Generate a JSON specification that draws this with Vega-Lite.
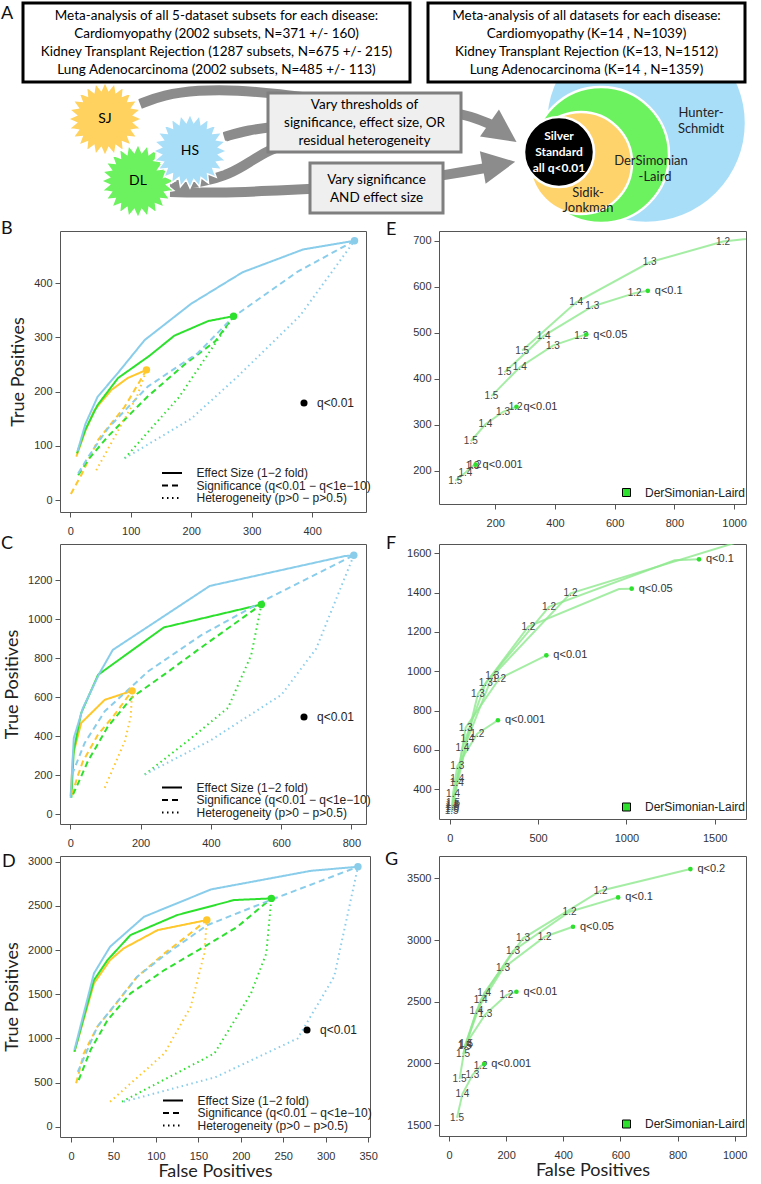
{
"$schema":"https://vega.github.io/schema/vega-lite/v6.json",
"padding":0,
"background":"white",
"columns":2,
"align":"each",
"bounds":"flush",
"spacing":{"row":32,"column":69},
"config":{
 "font":"Liberation Sans",
 "view":{"stroke":"#555","strokeWidth":1},
 "axis":{"domain":false,"grid":false,"tickColor":"#555","tickSize":5,"labelFont":"Liberation Sans","labelFontSize":11,"labelColor":"#333","titleFont":"Lato","titleFontSize":18,"titleFontWeight":"normal","titleColor":"#222","labelFlush":false,"labelOverlap":false,"format":"d"},
 "axisX":{"labelPadding":8,"labelAngle":0,"titlePadding":1},
 "axisY":{"labelPadding":3,"titlePadding":6},
 "legend":{"padding":0,"labelFont":"Liberation Sans","labelFontSize":12,"labelColor":"#222","rowPadding":0.5,"labelLimit":300},
 "title":{"font":"Lato","fontSize":18,"fontWeight":"normal","anchor":"start","frame":"group","offset":0,"baseline":"middle","color":"#111"}
},
"resolve":{"scale":{"fill":"independent","stroke":"independent","strokeDash":"independent","shape":"independent","size":"independent"},"legend":{"fill":"independent","stroke":"independent","strokeDash":"independent","shape":"independent","size":"independent"}},
"datasets":{
"roc":[
{"p":"B","m":"SJ","t":"ES","fp":10,"tp":80},{"p":"B","m":"SJ","t":"ES","fp":25,"tp":128},{"p":"B","m":"SJ","t":"ES","fp":40,"tp":166},{"p":"B","m":"SJ","t":"ES","fp":68,"tp":203},{"p":"B","m":"SJ","t":"ES","fp":95,"tp":225},{"p":"B","m":"SJ","t":"ES","fp":126,"tp":240},
{"p":"B","m":"DL","t":"ES","fp":11,"tp":86},{"p":"B","m":"DL","t":"ES","fp":25,"tp":130},{"p":"B","m":"DL","t":"ES","fp":45,"tp":175},{"p":"B","m":"DL","t":"ES","fp":79,"tp":225},{"p":"B","m":"DL","t":"ES","fp":131,"tp":266},{"p":"B","m":"DL","t":"ES","fp":172,"tp":303},{"p":"B","m":"DL","t":"ES","fp":228,"tp":330},{"p":"B","m":"DL","t":"ES","fp":270,"tp":339},
{"p":"B","m":"HS","t":"ES","fp":12,"tp":90},{"p":"B","m":"HS","t":"ES","fp":25,"tp":140},{"p":"B","m":"HS","t":"ES","fp":45,"tp":190},{"p":"B","m":"HS","t":"ES","fp":80,"tp":236},{"p":"B","m":"HS","t":"ES","fp":123,"tp":295},{"p":"B","m":"HS","t":"ES","fp":200,"tp":362},{"p":"B","m":"HS","t":"ES","fp":285,"tp":420},{"p":"B","m":"HS","t":"ES","fp":385,"tp":462},{"p":"B","m":"HS","t":"ES","fp":470,"tp":478},
{"p":"B","m":"SJ","t":"SIG","fp":1,"tp":11},{"p":"B","m":"SJ","t":"SIG","fp":20,"tp":50},{"p":"B","m":"SJ","t":"SIG","fp":46,"tp":111},{"p":"B","m":"SJ","t":"SIG","fp":90,"tp":172},{"p":"B","m":"SJ","t":"SIG","fp":126,"tp":240},
{"p":"B","m":"DL","t":"SIG","fp":13,"tp":46},{"p":"B","m":"DL","t":"SIG","fp":30,"tp":75},{"p":"B","m":"DL","t":"SIG","fp":62,"tp":117},{"p":"B","m":"DL","t":"SIG","fp":128,"tp":191},{"p":"B","m":"DL","t":"SIG","fp":189,"tp":250},{"p":"B","m":"DL","t":"SIG","fp":240,"tp":293},{"p":"B","m":"DL","t":"SIG","fp":270,"tp":339},
{"p":"B","m":"HS","t":"SIG","fp":13,"tp":49},{"p":"B","m":"HS","t":"SIG","fp":30,"tp":80},{"p":"B","m":"HS","t":"SIG","fp":62,"tp":132},{"p":"B","m":"HS","t":"SIG","fp":128,"tp":209},{"p":"B","m":"HS","t":"SIG","fp":211,"tp":271},{"p":"B","m":"HS","t":"SIG","fp":270,"tp":338},{"p":"B","m":"HS","t":"SIG","fp":376,"tp":421},{"p":"B","m":"HS","t":"SIG","fp":470,"tp":478},
{"p":"B","m":"SJ","t":"HET","fp":43,"tp":55},{"p":"B","m":"SJ","t":"HET","fp":80,"tp":130},{"p":"B","m":"SJ","t":"HET","fp":110,"tp":190},{"p":"B","m":"SJ","t":"HET","fp":126,"tp":240},
{"p":"B","m":"DL","t":"HET","fp":90,"tp":77},{"p":"B","m":"DL","t":"HET","fp":180,"tp":190},{"p":"B","m":"DL","t":"HET","fp":270,"tp":339},
{"p":"B","m":"HS","t":"HET","fp":90,"tp":77},{"p":"B","m":"HS","t":"HET","fp":200,"tp":150},{"p":"B","m":"HS","t":"HET","fp":277,"tp":228},{"p":"B","m":"HS","t":"HET","fp":380,"tp":340},{"p":"B","m":"HS","t":"HET","fp":470,"tp":478},
{"p":"C","m":"SJ","t":"ES","fp":1,"tp":94},{"p":"C","m":"SJ","t":"ES","fp":8,"tp":306},{"p":"C","m":"SJ","t":"ES","fp":31,"tp":468},{"p":"C","m":"SJ","t":"ES","fp":98,"tp":587},{"p":"C","m":"SJ","t":"ES","fp":176,"tp":633},
{"p":"C","m":"DL","t":"ES","fp":3,"tp":85},{"p":"C","m":"DL","t":"ES","fp":10,"tp":330},{"p":"C","m":"DL","t":"ES","fp":31,"tp":519},{"p":"C","m":"DL","t":"ES","fp":79,"tp":715},{"p":"C","m":"DL","t":"ES","fp":266,"tp":958},{"p":"C","m":"DL","t":"ES","fp":544,"tp":1076},
{"p":"C","m":"HS","t":"ES","fp":1,"tp":85},{"p":"C","m":"HS","t":"ES","fp":10,"tp":391},{"p":"C","m":"HS","t":"ES","fp":36,"tp":545},{"p":"C","m":"HS","t":"ES","fp":83,"tp":723},{"p":"C","m":"HS","t":"ES","fp":121,"tp":843},{"p":"C","m":"HS","t":"ES","fp":397,"tp":1171},{"p":"C","m":"HS","t":"ES","fp":781,"tp":1324},{"p":"C","m":"HS","t":"ES","fp":807,"tp":1328},
{"p":"C","m":"SJ","t":"SIG","fp":5,"tp":100},{"p":"C","m":"SJ","t":"SIG","fp":20,"tp":190},{"p":"C","m":"SJ","t":"SIG","fp":36,"tp":272},{"p":"C","m":"SJ","t":"SIG","fp":79,"tp":409},{"p":"C","m":"SJ","t":"SIG","fp":126,"tp":511},{"p":"C","m":"SJ","t":"SIG","fp":176,"tp":633},
{"p":"C","m":"DL","t":"SIG","fp":8,"tp":102},{"p":"C","m":"DL","t":"SIG","fp":30,"tp":190},{"p":"C","m":"DL","t":"SIG","fp":50,"tp":272},{"p":"C","m":"DL","t":"SIG","fp":107,"tp":450},{"p":"C","m":"DL","t":"SIG","fp":176,"tp":600},{"p":"C","m":"DL","t":"SIG","fp":270,"tp":720},{"p":"C","m":"DL","t":"SIG","fp":363,"tp":843},{"p":"C","m":"DL","t":"SIG","fp":544,"tp":1076},
{"p":"C","m":"HS","t":"SIG","fp":5,"tp":204},{"p":"C","m":"HS","t":"SIG","fp":41,"tp":366},{"p":"C","m":"HS","t":"SIG","fp":98,"tp":528},{"p":"C","m":"HS","t":"SIG","fp":221,"tp":732},{"p":"C","m":"HS","t":"SIG","fp":373,"tp":919},{"p":"C","m":"HS","t":"SIG","fp":553,"tp":1098},{"p":"C","m":"HS","t":"SIG","fp":807,"tp":1328},
{"p":"C","m":"SJ","t":"HET","fp":98,"tp":136},{"p":"C","m":"SJ","t":"HET","fp":155,"tp":374},{"p":"C","m":"SJ","t":"HET","fp":172,"tp":500},{"p":"C","m":"SJ","t":"HET","fp":176,"tp":633},
{"p":"C","m":"DL","t":"HET","fp":212,"tp":204},{"p":"C","m":"DL","t":"HET","fp":330,"tp":370},{"p":"C","m":"DL","t":"HET","fp":449,"tp":546},{"p":"C","m":"DL","t":"HET","fp":515,"tp":817},{"p":"C","m":"DL","t":"HET","fp":544,"tp":1076},
{"p":"C","m":"HS","t":"HET","fp":212,"tp":204},{"p":"C","m":"HS","t":"HET","fp":400,"tp":380},{"p":"C","m":"HS","t":"HET","fp":601,"tp":613},{"p":"C","m":"HS","t":"HET","fp":700,"tp":850},{"p":"C","m":"HS","t":"HET","fp":807,"tp":1328},
{"p":"D","m":"SJ","t":"ES","fp":4,"tp":849},{"p":"D","m":"SJ","t":"ES","fp":27,"tp":1623},{"p":"D","m":"SJ","t":"ES","fp":46,"tp":1887},{"p":"D","m":"SJ","t":"ES","fp":62,"tp":2019},{"p":"D","m":"SJ","t":"ES","fp":102,"tp":2226},{"p":"D","m":"SJ","t":"ES","fp":160,"tp":2340},
{"p":"D","m":"DL","t":"ES","fp":4,"tp":849},{"p":"D","m":"DL","t":"ES","fp":27,"tp":1660},{"p":"D","m":"DL","t":"ES","fp":43,"tp":1887},{"p":"D","m":"DL","t":"ES","fp":70,"tp":2170},{"p":"D","m":"DL","t":"ES","fp":125,"tp":2396},{"p":"D","m":"DL","t":"ES","fp":192,"tp":2566},{"p":"D","m":"DL","t":"ES","fp":236,"tp":2585},
{"p":"D","m":"HS","t":"ES","fp":4,"tp":868},{"p":"D","m":"HS","t":"ES","fp":27,"tp":1736},{"p":"D","m":"HS","t":"ES","fp":46,"tp":2038},{"p":"D","m":"HS","t":"ES","fp":86,"tp":2377},{"p":"D","m":"HS","t":"ES","fp":165,"tp":2687},{"p":"D","m":"HS","t":"ES","fp":283,"tp":2898},{"p":"D","m":"HS","t":"ES","fp":338,"tp":2943},
{"p":"D","m":"SJ","t":"SIG","fp":6,"tp":491},{"p":"D","m":"SJ","t":"SIG","fp":15,"tp":830},{"p":"D","m":"SJ","t":"SIG","fp":31,"tp":1132},{"p":"D","m":"SJ","t":"SIG","fp":50,"tp":1358},{"p":"D","m":"SJ","t":"SIG","fp":78,"tp":1698},{"p":"D","m":"SJ","t":"SIG","fp":110,"tp":1962},{"p":"D","m":"SJ","t":"SIG","fp":133,"tp":2132},{"p":"D","m":"SJ","t":"SIG","fp":160,"tp":2340},
{"p":"D","m":"DL","t":"SIG","fp":9,"tp":528},{"p":"D","m":"DL","t":"SIG","fp":23,"tp":868},{"p":"D","m":"DL","t":"SIG","fp":43,"tp":1208},{"p":"D","m":"DL","t":"SIG","fp":70,"tp":1509},{"p":"D","m":"DL","t":"SIG","fp":110,"tp":1774},{"p":"D","m":"DL","t":"SIG","fp":157,"tp":2038},{"p":"D","m":"DL","t":"SIG","fp":196,"tp":2264},{"p":"D","m":"DL","t":"SIG","fp":236,"tp":2585},
{"p":"D","m":"HS","t":"SIG","fp":8,"tp":620},{"p":"D","m":"HS","t":"SIG","fp":31,"tp":1132},{"p":"D","m":"HS","t":"SIG","fp":78,"tp":1698},{"p":"D","m":"HS","t":"SIG","fp":110,"tp":1940},{"p":"D","m":"HS","t":"SIG","fp":160,"tp":2280},{"p":"D","m":"HS","t":"SIG","fp":236,"tp":2570},{"p":"D","m":"HS","t":"SIG","fp":338,"tp":2943},
{"p":"D","m":"SJ","t":"HET","fp":46,"tp":283},{"p":"D","m":"SJ","t":"HET","fp":110,"tp":830},{"p":"D","m":"SJ","t":"HET","fp":141,"tp":1358},{"p":"D","m":"SJ","t":"HET","fp":157,"tp":1962},{"p":"D","m":"SJ","t":"HET","fp":160,"tp":2340},
{"p":"D","m":"DL","t":"HET","fp":60,"tp":283},{"p":"D","m":"DL","t":"HET","fp":169,"tp":830},{"p":"D","m":"DL","t":"HET","fp":212,"tp":1509},{"p":"D","m":"DL","t":"HET","fp":230,"tp":1962},{"p":"D","m":"DL","t":"HET","fp":236,"tp":2585},
{"p":"D","m":"HS","t":"HET","fp":62,"tp":283},{"p":"D","m":"HS","t":"HET","fp":170,"tp":560},{"p":"D","m":"HS","t":"HET","fp":267,"tp":1000},{"p":"D","m":"HS","t":"HET","fp":310,"tp":1700},{"p":"D","m":"HS","t":"HET","fp":338,"tp":2943}
],
"ends":[
{"p":"B","m":"SJ","fp":126,"tp":240},{"p":"B","m":"DL","fp":270,"tp":339},{"p":"B","m":"HS","fp":470,"tp":478},
{"p":"C","m":"SJ","fp":176,"tp":633},{"p":"C","m":"DL","fp":544,"tp":1076},{"p":"C","m":"HS","fp":807,"tp":1328},
{"p":"D","m":"SJ","fp":160,"tp":2340},{"p":"D","m":"DL","fp":236,"tp":2585},{"p":"D","m":"HS","fp":338,"tp":2943}
],
"qc":[
{"p":"E","q":"q<0.001","fp":66,"tp":178,"es":"1.5"},{"p":"E","q":"q<0.001","fp":100,"tp":196,"es":"1.4"},{"p":"E","q":"q<0.001","fp":124,"tp":210,"es":"1.3"},{"p":"E","q":"q<0.001","fp":131,"tp":213,"es":"1.2"},{"p":"E","q":"q<0.001","fp":134,"tp":213,"es":"end"},
{"p":"E","q":"q<0.01","fp":118,"tp":264,"es":"1.5"},{"p":"E","q":"q<0.01","fp":167,"tp":301,"es":"1.4"},{"p":"E","q":"q<0.01","fp":226,"tp":328,"es":"1.3"},{"p":"E","q":"q<0.01","fp":268,"tp":338,"es":"1.2"},{"p":"E","q":"q<0.01","fp":271,"tp":339,"es":"end"},
{"p":"E","q":"q<0.05","fp":187,"tp":362,"es":"1.5"},{"p":"E","q":"q<0.05","fp":282,"tp":425,"es":"1.4"},{"p":"E","q":"q<0.05","fp":393,"tp":472,"es":"1.3"},{"p":"E","q":"q<0.05","fp":488,"tp":493,"es":"1.2"},{"p":"E","q":"q<0.05","fp":505,"tp":496,"es":"end"},
{"p":"E","q":"q<0.1","fp":231,"tp":414,"es":"1.5"},{"p":"E","q":"q<0.1","fp":362,"tp":493,"es":"1.4"},{"p":"E","q":"q<0.1","fp":525,"tp":557,"es":"1.3"},{"p":"E","q":"q<0.1","fp":667,"tp":586,"es":"1.2"},{"p":"E","q":"q<0.1","fp":711,"tp":591,"es":"end"},
{"p":"E","q":"q<0.2","fp":290,"tp":461,"es":"1.5"},{"p":"E","q":"q<0.2","fp":471,"tp":566,"es":"1.4"},{"p":"E","q":"q<0.2","fp":717,"tp":653,"es":"1.3"},{"p":"E","q":"q<0.2","fp":963,"tp":698,"es":"1.2"},{"p":"E","q":"q<0.2","fp":1150,"tp":712,"es":"end"},
{"p":"F","q":"q<0.001","fp":11,"tp":290,"es":"1.5"},{"p":"F","q":"q<0.001","fp":19,"tp":378,"es":"1.4"},{"p":"F","q":"q<0.001","fp":43,"tp":518,"es":"1.3"},{"p":"F","q":"q<0.001","fp":156,"tp":683,"es":"1.2"},{"p":"F","q":"q<0.001","fp":273,"tp":751,"es":"end"},
{"p":"F","q":"q<0.01","fp":13,"tp":300,"es":"1.5"},{"p":"F","q":"q<0.01","fp":40,"tp":434,"es":"1.4"},{"p":"F","q":"q<0.01","fp":90,"tp":713,"es":"1.3"},{"p":"F","q":"q<0.01","fp":279,"tp":961,"es":"1.2"},{"p":"F","q":"q<0.01","fp":547,"tp":1081,"es":"end"},
{"p":"F","q":"q<0.05","fp":15,"tp":310,"es":"1.5"},{"p":"F","q":"q<0.05","fp":43,"tp":450,"es":"1.4"},{"p":"F","q":"q<0.05","fp":160,"tp":886,"es":"1.3"},{"p":"F","q":"q<0.05","fp":445,"tp":1227,"es":"1.2"},{"p":"F","q":"q<0.05","fp":958,"tp":1418,"es":""},{"p":"F","q":"q<0.05","fp":1030,"tp":1420,"es":"end"},
{"p":"F","q":"q<0.1","fp":17,"tp":320,"es":"1.5"},{"p":"F","q":"q<0.1","fp":72,"tp":611,"es":"1.4"},{"p":"F","q":"q<0.1","fp":204,"tp":942,"es":"1.3"},{"p":"F","q":"q<0.1","fp":562,"tp":1328,"es":"1.2"},{"p":"F","q":"q<0.1","fp":1273,"tp":1564,"es":""},{"p":"F","q":"q<0.1","fp":1411,"tp":1569,"es":"end"},
{"p":"F","q":"q<0.2","fp":19,"tp":330,"es":"1.5"},{"p":"F","q":"q<0.2","fp":100,"tp":654,"es":"1.4"},{"p":"F","q":"q<0.2","fp":241,"tp":975,"es":"1.3"},{"p":"F","q":"q<0.2","fp":684,"tp":1396,"es":"1.2"},{"p":"F","q":"q<0.2","fp":1750,"tp":1690,"es":"end"},
{"p":"G","q":"q<0.001","fp":28,"tp":1559,"es":"1.5"},{"p":"G","q":"q<0.001","fp":47,"tp":1751,"es":"1.4"},{"p":"G","q":"q<0.001","fp":82,"tp":1905,"es":"1.3"},{"p":"G","q":"q<0.001","fp":111,"tp":1978,"es":"1.2"},{"p":"G","q":"q<0.001","fp":123,"tp":1995,"es":"end"},
{"p":"G","q":"q<0.01","fp":37,"tp":1873,"es":"1.5"},{"p":"G","q":"q<0.01","fp":57,"tp":2150,"es":"1.4"},{"p":"G","q":"q<0.01","fp":127,"tp":2397,"es":"1.3"},{"p":"G","q":"q<0.01","fp":201,"tp":2554,"es":"1.2"},{"p":"G","q":"q<0.01","fp":236,"tp":2581,"es":"end"},
{"p":"G","q":"q<0.05","fp":49,"tp":2073,"es":"1.5"},{"p":"G","q":"q<0.05","fp":96,"tp":2424,"es":"1.4"},{"p":"G","q":"q<0.05","fp":189,"tp":2770,"es":"1.3"},{"p":"G","q":"q<0.05","fp":335,"tp":3027,"es":"1.2"},{"p":"G","q":"q<0.05","fp":434,"tp":3108,"es":"end"},
{"p":"G","q":"q<0.1","fp":55,"tp":2140,"es":"1.5"},{"p":"G","q":"q<0.1","fp":111,"tp":2514,"es":"1.4"},{"p":"G","q":"q<0.1","fp":224,"tp":2911,"es":"1.3"},{"p":"G","q":"q<0.1","fp":422,"tp":3230,"es":"1.2"},{"p":"G","q":"q<0.1","fp":592,"tp":3346,"es":"end"},
{"p":"G","q":"q<0.2","fp":60,"tp":2160,"es":"1.5"},{"p":"G","q":"q<0.2","fp":123,"tp":2568,"es":"1.4"},{"p":"G","q":"q<0.2","fp":259,"tp":3014,"es":"1.3"},{"p":"G","q":"q<0.2","fp":531,"tp":3400,"es":"1.2"},{"p":"G","q":"q<0.2","fp":845,"tp":3576,"es":"end"}
],
"arrows":[
{"id":"T1","o":1,"x":142,"y":104},{"id":"T1","o":2,"x":165,"y":95},{"id":"T1","o":3,"x":200,"y":90},{"id":"T1","o":4,"x":240,"y":90},{"id":"T1","o":5,"x":280,"y":94},{"id":"T1","o":6,"x":330,"y":100},
{"id":"T2","o":1,"x":226,"y":137},{"id":"T2","o":2,"x":250,"y":130},{"id":"T2","o":3,"x":280,"y":126},{"id":"T2","o":4,"x":330,"y":125},
{"id":"T3","o":1,"x":172,"y":186},{"id":"T3","o":2,"x":205,"y":182},{"id":"T3","o":3,"x":232,"y":174},{"id":"T3","o":4,"x":252,"y":162},{"id":"T3","o":5,"x":270,"y":150},{"id":"T3","o":6,"x":300,"y":140},{"id":"T3","o":7,"x":330,"y":135},
{"id":"T4","o":1,"x":440,"y":112},{"id":"T4","o":2,"x":468,"y":114},{"id":"T4","o":3,"x":494,"y":125},
{"id":"B1","o":1,"x":172,"y":192},{"id":"B1","o":2,"x":220,"y":193},{"id":"B1","o":3,"x":270,"y":191},{"id":"B1","o":4,"x":330,"y":188},
{"id":"B2","o":1,"x":440,"y":176},{"id":"B2","o":2,"x":465,"y":172},{"id":"B2","o":3,"x":488,"y":168}
],
"heads":[{"id":"top","x":505,"y":132.5},{"id":"bottom","x":501,"y":164.6}],
"stars":[{"name":"SJ","x":107,"y":119},{"name":"DL","x":140,"y":181},{"name":"HS","x":192,"y":151}],
"rings":[{"ring":"HS","x":648,"y":123},{"ring":"DL","x":603,"y":155},{"ring":"SJ","x":583,"y":163},{"ring":"SS","x":561,"y":152}],
"boxes":[{"kind":"L","x":25,"x2":412,"y":3,"y2":82},{"kind":"R","x":430,"x2":747,"y":3,"y2":82},{"kind":"G","x":270,"x2":463,"y":93,"y2":152},{"kind":"G","x":312,"x2":445,"y":163,"y2":213}],
"atext":[
{"g":"boxL","x":218.5,"y":16,"t":"Meta-analysis of all 5-dataset subsets for each disease:"},
{"g":"boxL","x":218.5,"y":34,"t":"Cardiomyopathy (2002 subsets, N=371 +/- 160)"},
{"g":"boxL","x":218.5,"y":52,"t":"Kidney Transplant Rejection (1287 subsets, N=675 +/- 215)"},
{"g":"boxL","x":218.5,"y":70,"t":"Lung Adenocarcinoma (2002 subsets, N=485 +/- 113)"},
{"g":"boxL","x":366.5,"y":105,"t":"Vary thresholds of"},
{"g":"boxL","x":366.5,"y":123,"t":"significance, effect size, OR"},
{"g":"boxL","x":366.5,"y":141,"t":"residual heterogeneity"},
{"g":"boxL","x":378.5,"y":180,"t":"Vary significance"},
{"g":"boxL","x":378.5,"y":198,"t":"AND effect size"},
{"g":"boxR","x":588.5,"y":16,"t":"Meta-analysis of all datasets for each disease:"},
{"g":"boxR","x":588.5,"y":34,"t":"Cardiomyopathy  (K=14 , N=1039)"},
{"g":"boxR","x":588.5,"y":52,"t":"Kidney Transplant Rejection  (K=13, N=1512)"},
{"g":"boxR","x":588.5,"y":70,"t":"Lung Adenocarcinoma  (K=14 , N=1359)"},
{"g":"star","x":107,"y":119,"t":"SJ"},
{"g":"star","x":192,"y":151,"t":"HS"},
{"g":"star","x":140,"y":181,"t":"DL"},
{"g":"ss","x":561,"y":136,"t":"Silver"},
{"g":"ss","x":561,"y":152,"t":"Standard"},
{"g":"ss","x":561,"y":168,"t":"all q<0.01"},
{"g":"ring","x":703,"y":113,"t":"Hunter-"},
{"g":"ring","x":703,"y":129,"t":"Schmidt"},
{"g":"ring","x":653,"y":161,"t":"DerSimonian"},
{"g":"ring","x":657,"y":177,"t":"-Laird"},
{"g":"ring","x":590,"y":193,"t":"Sidik-"},
{"g":"ring","x":590,"y":208,"t":"Jonkman"},
{"g":"letter","x":9,"y":14,"t":"A"}
]
},
"concat":[
{
 "width":310,"height":199,"view":{"stroke":null},
 "encoding":{
  "x":{"field":"x","type":"quantitative","scale":{"domain":[62,372],"nice":false,"zero":false},"axis":null},
  "y":{"field":"y","type":"quantitative","scale":{"domain":[0,199],"nice":false,"zero":false,"reverse":true},"axis":null}
 },
 "layer":[
  {"data":{"values":[{}]},"mark":{"type":"rect","fill":"white","strokeWidth":0},"encoding":{"x":{"datum":0,"type":"quantitative"},"x2":{"datum":761},"y":{"datum":0,"type":"quantitative"},"y2":{"datum":226}}},
  {"data":{"name":"arrows"},"mark":{"type":"line","stroke":"#8c8c8c","strokeWidth":10,"interpolate":"basis","strokeCap":"butt"},"encoding":{"detail":{"field":"id"},"order":{"field":"o","type":"quantitative"}}},
  {"data":{"name":"heads"},"transform":[{"filter":"datum.id=='top'"}],"mark":{"type":"point","shape":"M-1,-1L1,0L-1,1Z","size":1089,"filled":true,"color":"#8c8c8c","opacity":1,"angle":35}},
  {"data":{"name":"heads"},"transform":[{"filter":"datum.id=='bottom'"}],"mark":{"type":"point","shape":"M-1,-1L1,0L-1,1Z","size":1089,"filled":true,"color":"#8c8c8c","opacity":1,"angle":-10}},
  {"data":{"name":"stars"},"mark":{"type":"point","shape":"M1,0L0.773,0.102L0.966,0.259L0.721,0.299L0.866,0.5L0.619,0.475L0.707,0.707L0.475,0.619L0.5,0.866L0.299,0.721L0.259,0.966L0.102,0.773L0,1L-0.102,0.773L-0.259,0.966L-0.299,0.721L-0.5,0.866L-0.475,0.619L-0.707,0.707L-0.619,0.475L-0.866,0.5L-0.721,0.299L-0.966,0.259L-0.773,0.102L-1,0L-0.773,-0.102L-0.966,-0.259L-0.721,-0.299L-0.866,-0.5L-0.619,-0.475L-0.707,-0.707L-0.475,-0.619L-0.5,-0.866L-0.299,-0.721L-0.259,-0.966L-0.102,-0.773L0,-1L0.102,-0.773L0.259,-0.966L0.299,-0.721L0.5,-0.866L0.475,-0.619L0.707,-0.707L0.619,-0.475L0.866,-0.5L0.721,-0.299L0.966,-0.259L0.773,-0.102Z","size":5476,"filled":true,"opacity":1,"stroke":"white","strokeWidth":1.5},
   "encoding":{"fill":{"field":"name","type":"nominal","scale":{"domain":["SJ","DL","HS"],"range":["#FFD25F","#6CF25E","#A9DEF9"]},"legend":null}}},
  {"data":{"name":"boxes"},"transform":[{"filter":"datum.kind=='L'"}],"mark":{"type":"rect","fill":"white","stroke":"black","strokeWidth":3},"encoding":{"x2":{"field":"x2"},"y2":{"field":"y2"}}},
  {"data":{"name":"boxes"},"transform":[{"filter":"datum.kind=='G'"}],"mark":{"type":"rect","fill":"#efefef","stroke":"#7f7f7f","strokeWidth":3},"encoding":{"x2":{"field":"x2"},"y2":{"field":"y2"}}},
  {"data":{"name":"atext"},"transform":[{"filter":"datum.g=='boxL'"}],"mark":{"type":"text","font":"Lato","fontSize":13.5,"fill":"#000","align":"center","baseline":"middle"},"encoding":{"text":{"field":"t"}}},
  {"data":{"name":"atext"},"transform":[{"filter":"datum.g=='star'"}],"mark":{"type":"text","font":"Lato","fontSize":14,"fill":"#000","align":"center","baseline":"middle"},"encoding":{"text":{"field":"t"}}},
  {"data":{"name":"atext"},"transform":[{"filter":"datum.g=='letter'"}],"mark":{"type":"text","font":"Lato","fontSize":18,"fill":"#111","align":"center","baseline":"middle"},"encoding":{"text":{"field":"t"}}}
 ]
},
{
 "width":307,"height":199,"view":{"stroke":null},
 "encoding":{
  "x":{"field":"x","type":"quantitative","scale":{"domain":[441,748],"nice":false,"zero":false},"axis":null},
  "y":{"field":"y","type":"quantitative","scale":{"domain":[0,199],"nice":false,"zero":false,"reverse":true},"axis":null}
 },
 "layer":[
  {"data":{"name":"rings"},"transform":[{"filter":"datum.ring=='HS'"}],"mark":{"type":"point","shape":"circle","size":40000,"filled":true,"opacity":1,"fill":"#A9DEF9","stroke":"white","strokeWidth":2.5}},
  {"data":{"name":"rings"},"transform":[{"filter":"datum.ring=='DL'"}],"mark":{"type":"point","shape":"circle","size":18496,"filled":true,"opacity":1,"fill":"#6CF25E","stroke":"white","strokeWidth":2.5}},
  {"data":{"name":"rings"},"transform":[{"filter":"datum.ring=='SJ'"}],"mark":{"type":"point","shape":"circle","size":10404,"filled":true,"opacity":1,"fill":"#FFD36B","stroke":"white","strokeWidth":2.5}},
  {"data":{"name":"rings"},"transform":[{"filter":"datum.ring=='SS'"}],"mark":{"type":"point","shape":"circle","size":4900,"filled":true,"opacity":1,"fill":"#000000","stroke":"white","strokeWidth":2.5}},
  {"data":{"name":"boxes"},"transform":[{"filter":"datum.kind=='R'"}],"mark":{"type":"rect","fill":"white","stroke":"black","strokeWidth":3},"encoding":{"x2":{"field":"x2"},"y2":{"field":"y2"}}},
  {"data":{"name":"atext"},"transform":[{"filter":"datum.g=='boxR'"}],"mark":{"type":"text","font":"Lato","fontSize":13.5,"fill":"#000","align":"center","baseline":"middle"},"encoding":{"text":{"field":"t"}}},
  {"data":{"name":"atext"},"transform":[{"filter":"datum.g=='ss'"}],"mark":{"type":"text","font":"Lato","fontSize":12,"fontWeight":"bold","fill":"white","align":"center","baseline":"middle"},"encoding":{"text":{"field":"t"}}},
  {"data":{"name":"atext"},"transform":[{"filter":"datum.g=='ring'"}],"mark":{"type":"text","font":"Lato","fontSize":13,"fill":"#222","align":"center","baseline":"middle"},"encoding":{"text":{"field":"t"}}}
 ]
},
{
 "width":306,"height":281,
 "title":{"text":"B","dx":-59,"dy":11},
 "encoding":{
  "x":{"field":"fp","type":"quantitative","scale":{"domain":[-17,489],"nice":false,"zero":false},"axis":{"values":[0,100,200,300,400],"title":null}},
  "y":{"field":"tp","type":"quantitative","scale":{"domain":[-22,496],"nice":false,"zero":false},"axis":{"values":[0,100,200,300,400],"title":"True Positives"}}
 },
 "layer":[
  {"data":{"name":"roc"},"transform":[{"filter":"datum.p=='B'"}],"mark":{"type":"line","strokeWidth":2,"strokeCap":"butt","strokeJoin":"round"},
   "encoding":{"stroke":{"field":"m","type":"nominal","scale":{"domain":["SJ","DL","HS"],"range":["#FFC72C","#2EE02E","#89CDEB"]},"legend":null},
    "strokeDash":{"field":"t","type":"nominal","scale":{"domain":["ES","SIG","HET"],"range":[[1,0],[6,4],[1.5,3.5]]},"legend":{"title":null,"orient":"none","legendX":106,"legendY":236,"symbolType":"M-2.5,0H2.5","symbolSize":64,"symbolStrokeWidth":2,"symbolStrokeColor":"black","labelOffset":18.5,"labelExpr":"datum.label=='ES'?'Effect Size (1−2 fold)':datum.label=='SIG'?'Significance (q<0.01 − q<1e−10)':'Heterogeneity (p>0 − p>0.5)'"}}}},
  {"data":{"name":"ends"},"transform":[{"filter":"datum.p=='B'"}],"mark":{"type":"point","filled":true,"size":55,"opacity":1},
   "encoding":{"fill":{"field":"m","type":"nominal","scale":{"domain":["SJ","DL","HS"],"range":["#FFC72C","#2EE02E","#89CDEB"]},"legend":{"title":null,"orient":"none","legendX":173,"legendY":185,"symbolType":"square","symbolSize":64,"symbolStrokeWidth":0,"labelOffset":11,"labelExpr":"datum.label=='SJ'?'Sidik-Jonkman':datum.label=='DL'?'DerSimonian-Laird':'Hunter-Schmidt'"}},
    "shape":{"field":"p","type":"nominal","scale":{"range":["circle"]},"legend":{"title":null,"orient":"none","legendX":238,"legendY":166,"symbolType":"circle","symbolSize":50,"symbolFillColor":"black","symbolStrokeColor":"black","symbolStrokeWidth":0,"labelOffset":7,"labelExpr":"'q<0.01'"}}}},
  {"data":{"values":[{}]},"mark":{"type":"text","font":"Lato","fontSize":17,"fill":"#111","align":"left","baseline":"middle"},"encoding":{"x":{"datum":12.7,"type":"quantitative"},"y":{"datum":458,"type":"quantitative"},"text":{"value":"Cardiomyopathy"}}}
 ]
},
{
 "width":307,"height":273,
 "title":{"text":"E","dx":-53,"dy":12},
 "encoding":{
  "x":{"field":"fp","type":"quantitative","scale":{"domain":[11.4,1040],"nice":false,"zero":false},"axis":{"values":[200,400,600,800,1000],"title":null}},
  "y":{"field":"tp","type":"quantitative","scale":{"domain":[127.6,721],"nice":false,"zero":false},"axis":{"values":[200,300,400,500,600,700],"title":null}}
 },
 "layer":[
  {"data":{"name":"qc"},"transform":[{"filter":"datum.p=='E'"}],"mark":{"type":"line","stroke":"#8FE88F","strokeWidth":2,"opacity":0.8,"clip":true},"encoding":{"detail":{"field":"q"}}},
  {"data":{"name":"qc"},"transform":[{"filter":"datum.p=='E' && datum.es!='end' && datum.es!=''"}],"mark":{"type":"text","fontSize":10,"fill":"#444","clip":true},"encoding":{"text":{"field":"es"}}},
  {"data":{"name":"qc"},"transform":[{"filter":"datum.p=='E' && datum.es=='end' && datum.fp<1040"}],"mark":{"type":"point","filled":true,"size":22,"opacity":1,"clip":true},"encoding":{"fill":{"field":"p","type":"nominal","scale":{"range":["#2EE02E"]},"legend":{"title":null,"orient":"none","legendX":181.5,"legendY":255.5,"symbolType":"square","symbolSize":64,"symbolStrokeColor":"black","symbolStrokeWidth":1,"labelOffset":12.5,"labelExpr":"'DerSimonian-Laird'"}}}},
  {"data":{"name":"qc"},"transform":[{"filter":"datum.p=='E' && datum.es=='end' && datum.fp<1040"}],"mark":{"type":"text","align":"left","dx":7,"fontSize":11,"fill":"#333","clip":true},"encoding":{"text":{"field":"q"}}},
  {"data":{"values":[{}]},"mark":{"type":"text","font":"Liberation Sans","fontSize":12,"fill":"#222","lineHeight":14.5,"align":"center","baseline":"middle"},"encoding":{"x":{"datum":801,"type":"quantitative"},"y":{"datum":399,"type":"quantitative"},"text":{"value":["Numbers indicate","effect size limits","for given q value"]}}},
  {"data":{"values":[{}]},"mark":{"type":"text","font":"Lato","fontSize":17,"fill":"#111","align":"left","baseline":"middle"},"encoding":{"x":{"datum":64,"type":"quantitative"},"y":{"datum":678,"type":"quantitative"},"text":{"value":"Cardiomyopathy"}}}
 ]
},
{
 "width":306,"height":280,
 "title":{"text":"C","dx":-59,"dy":13},
 "encoding":{
  "x":{"field":"fp","type":"quantitative","scale":{"domain":[-29.3,841.7],"nice":false,"zero":false},"axis":{"values":[0,200,400,600,800],"title":null}},
  "y":{"field":"tp","type":"quantitative","scale":{"domain":[-49.7,1386],"nice":false,"zero":false},"axis":{"values":[0,200,400,600,800,1000,1200],"title":"True Positives"}}
 },
 "layer":[
  {"data":{"name":"roc"},"transform":[{"filter":"datum.p=='C'"}],"mark":{"type":"line","strokeWidth":2,"strokeCap":"butt","strokeJoin":"round"},
   "encoding":{"stroke":{"field":"m","type":"nominal","scale":{"domain":["SJ","DL","HS"],"range":["#FFC72C","#2EE02E","#89CDEB"]},"legend":null},
    "strokeDash":{"field":"t","type":"nominal","scale":{"domain":["ES","SIG","HET"],"range":[[1,0],[6,4],[1.5,3.5]]},"legend":{"title":null,"orient":"none","legendX":106,"legendY":237.5,"symbolType":"M-2.5,0H2.5","symbolSize":64,"symbolStrokeWidth":2,"symbolStrokeColor":"black","labelOffset":18.5,"labelExpr":"datum.label=='ES'?'Effect Size (1−2 fold)':datum.label=='SIG'?'Significance (q<0.01 − q<1e−10)':'Heterogeneity (p>0 − p>0.5)'"}}}},
  {"data":{"name":"ends"},"transform":[{"filter":"datum.p=='C'"}],"mark":{"type":"point","filled":true,"size":55,"opacity":1},
   "encoding":{"fill":{"field":"m","type":"nominal","scale":{"domain":["SJ","DL","HS"],"range":["#FFC72C","#2EE02E","#89CDEB"]},"legend":{"title":null,"orient":"none","legendX":173,"legendY":187,"symbolType":"square","symbolSize":64,"symbolStrokeWidth":0,"labelOffset":11,"labelExpr":"datum.label=='SJ'?'Sidik-Jonkman':datum.label=='DL'?'DerSimonian-Laird':'Hunter-Schmidt'"}},
    "shape":{"field":"p","type":"nominal","scale":{"range":["circle"]},"legend":{"title":null,"orient":"none","legendX":238,"legendY":167,"symbolType":"circle","symbolSize":50,"symbolFillColor":"black","symbolStrokeColor":"black","symbolStrokeWidth":0,"labelOffset":7,"labelExpr":"'q<0.01'"}}}},
  {"data":{"values":[{}]},"mark":{"type":"text","font":"Lato","fontSize":17,"fill":"#111","align":"center","baseline":"middle","lineHeight":21},"encoding":{"x":{"datum":131,"type":"quantitative"},"y":{"datum":1237,"type":"quantitative"},"text":{"value":["Kidney","Transplant"]}}}
 ]
},
{
 "width":307,"height":275,
 "title":{"text":"F","dx":-53,"dy":13},
 "encoding":{
  "x":{"field":"fp","type":"quantitative","scale":{"domain":[-60.6,1677],"nice":false,"zero":false},"axis":{"values":[0,500,1000,1500],"title":null}},
  "y":{"field":"tp","type":"quantitative","scale":{"domain":[249,1647],"nice":false,"zero":false},"axis":{"values":[400,600,800,1000,1200,1400,1600],"title":null}}
 },
 "layer":[
  {"data":{"name":"qc"},"transform":[{"filter":"datum.p=='F'"}],"mark":{"type":"line","stroke":"#8FE88F","strokeWidth":2,"opacity":0.8,"clip":true},"encoding":{"detail":{"field":"q"}}},
  {"data":{"name":"qc"},"transform":[{"filter":"datum.p=='F' && datum.es!='end' && datum.es!=''"}],"mark":{"type":"text","fontSize":10,"fill":"#444","clip":true},"encoding":{"text":{"field":"es"}}},
  {"data":{"name":"qc"},"transform":[{"filter":"datum.p=='F' && datum.es=='end' && datum.fp<1677"}],"mark":{"type":"point","filled":true,"size":22,"opacity":1,"clip":true},"encoding":{"fill":{"field":"p","type":"nominal","scale":{"range":["#2EE02E"]},"legend":{"title":null,"orient":"none","legendX":181.5,"legendY":257,"symbolType":"square","symbolSize":64,"symbolStrokeColor":"black","symbolStrokeWidth":1,"labelOffset":12.5,"labelExpr":"'DerSimonian-Laird'"}}}},
  {"data":{"name":"qc"},"transform":[{"filter":"datum.p=='F' && datum.es=='end' && datum.fp<1677"}],"mark":{"type":"text","align":"left","dx":7,"fontSize":11,"fill":"#333","clip":true},"encoding":{"text":{"field":"q"}}},
  {"data":{"values":[{}]},"mark":{"type":"text","font":"Liberation Sans","fontSize":12,"fill":"#222","lineHeight":14.5,"align":"center","baseline":"middle"},"encoding":{"x":{"datum":1198,"type":"quantitative"},"y":{"datum":798,"type":"quantitative"},"text":{"value":["Numbers indicate","effect size limits","for given q value"]}}},
  {"data":{"values":[{}]},"mark":{"type":"text","font":"Lato","fontSize":17,"fill":"#111","align":"center","baseline":"middle","lineHeight":21},"encoding":{"x":{"datum":255,"type":"quantitative"},"y":{"datum":1506,"type":"quantitative"},"text":{"value":["Kidney","Transplant"]}}}
 ]
},
{
 "width":310,"height":281,
 "title":{"text":"D","dx":-58,"dy":19},
 "encoding":{
  "x":{"field":"fp","type":"quantitative","scale":{"domain":[-13,352.2],"nice":false,"zero":false},"axis":{"values":[0,50,100,150,200,250,300,350],"title":"False Positives"}},
  "y":{"field":"tp","type":"quantitative","scale":{"domain":[-116.6,3065],"nice":false,"zero":false},"axis":{"values":[0,500,1000,1500,2000,2500,3000],"title":"True Positives"}}
 },
 "layer":[
  {"data":{"name":"roc"},"transform":[{"filter":"datum.p=='D'"}],"mark":{"type":"line","strokeWidth":2,"strokeCap":"butt","strokeJoin":"round"},
   "encoding":{"stroke":{"field":"m","type":"nominal","scale":{"domain":["SJ","DL","HS"],"range":["#FFC72C","#2EE02E","#89CDEB"]},"legend":null},
    "strokeDash":{"field":"t","type":"nominal","scale":{"domain":["ES","SIG","HET"],"range":[[1,0],[6,4],[1.5,3.5]]},"legend":{"title":null,"orient":"none","legendX":107,"legendY":238.5,"symbolType":"M-2.5,0H2.5","symbolSize":64,"symbolStrokeWidth":2,"symbolStrokeColor":"black","labelOffset":18.5,"labelExpr":"datum.label=='ES'?'Effect Size (1−2 fold)':datum.label=='SIG'?'Significance (q<0.01 − q<1e−10)':'Heterogeneity (p>0 − p>0.5)'"}}}},
  {"data":{"name":"ends"},"transform":[{"filter":"datum.p=='D'"}],"mark":{"type":"point","filled":true,"size":55,"opacity":1},
   "encoding":{"fill":{"field":"m","type":"nominal","scale":{"domain":["SJ","DL","HS"],"range":["#FFC72C","#2EE02E","#89CDEB"]},"legend":{"title":null,"orient":"none","legendX":173,"legendY":187.5,"symbolType":"square","symbolSize":64,"symbolStrokeWidth":0,"labelOffset":11,"labelExpr":"datum.label=='SJ'?'Sidik-Jonkman':datum.label=='DL'?'DerSimonian-Laird':'Hunter-Schmidt'"}},
    "shape":{"field":"p","type":"nominal","scale":{"range":["circle"]},"legend":{"title":null,"orient":"none","legendX":241,"legendY":168,"symbolType":"circle","symbolSize":50,"symbolFillColor":"black","symbolStrokeColor":"black","symbolStrokeWidth":0,"labelOffset":7,"labelExpr":"'q<0.01'"}}}},
  {"data":{"values":[{}]},"mark":{"type":"text","font":"Lato","fontSize":17,"fill":"#111","align":"center","baseline":"middle","lineHeight":21},"encoding":{"x":{"datum":50.5,"type":"quantitative"},"y":{"datum":2748,"type":"quantitative"},"text":{"value":["Lung","Cancer"]}}}
 ]
},
{
 "width":307,"height":280,
 "title":{"text":"G","dx":-54,"dy":17},
 "encoding":{
  "x":{"field":"fp","type":"quantitative","scale":{"domain":[-35,1039.6],"nice":false,"zero":false},"axis":{"values":[0,200,400,600,800,1000],"title":"False Positives"}},
  "y":{"field":"tp","type":"quantitative","scale":{"domain":[1411,3681.7],"nice":false,"zero":false},"axis":{"values":[1500,2000,2500,3000,3500],"title":null}}
 },
 "layer":[
  {"data":{"name":"qc"},"transform":[{"filter":"datum.p=='G'"}],"mark":{"type":"line","stroke":"#8FE88F","strokeWidth":2,"opacity":0.8,"clip":true},"encoding":{"detail":{"field":"q"}}},
  {"data":{"name":"qc"},"transform":[{"filter":"datum.p=='G' && datum.es!='end' && datum.es!=''"}],"mark":{"type":"text","fontSize":10,"fill":"#444","clip":true},"encoding":{"text":{"field":"es"}}},
  {"data":{"name":"qc"},"transform":[{"filter":"datum.p=='G' && datum.es=='end'"}],"mark":{"type":"point","filled":true,"size":22,"opacity":1,"clip":true},"encoding":{"fill":{"field":"p","type":"nominal","scale":{"range":["#2EE02E"]},"legend":{"title":null,"orient":"none","legendX":181.5,"legendY":262,"symbolType":"square","symbolSize":64,"symbolStrokeColor":"black","symbolStrokeWidth":1,"labelOffset":12.5,"labelExpr":"'DerSimonian-Laird'"}}}},
  {"data":{"name":"qc"},"transform":[{"filter":"datum.p=='G' && datum.es=='end'"}],"mark":{"type":"text","align":"left","dx":7,"fontSize":11,"fill":"#333","clip":true},"encoding":{"text":{"field":"q"}}},
  {"data":{"values":[{}]},"mark":{"type":"text","font":"Liberation Sans","fontSize":12,"fill":"#222","lineHeight":14.5,"align":"center","baseline":"middle"},"encoding":{"x":{"datum":801.5,"type":"quantitative"},"y":{"datum":2492,"type":"quantitative"},"text":{"value":["Numbers indicate","effect size limits","for given q value"]}}},
  {"data":{"values":[{}]},"mark":{"type":"text","font":"Lato","fontSize":17,"fill":"#111","align":"center","baseline":"middle","lineHeight":21},"encoding":{"x":{"datum":157.5,"type":"quantitative"},"y":{"datum":3442,"type":"quantitative"},"text":{"value":["Lung","Cancer"]}}}
 ]
}
]
}
